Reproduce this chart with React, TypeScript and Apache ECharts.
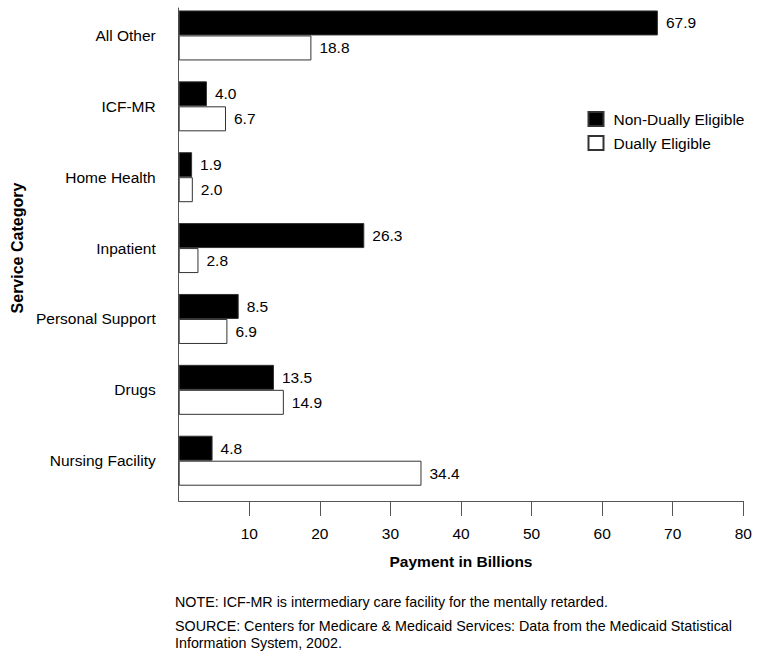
import React, { useEffect, useRef } from "react";
import * as echarts from "echarts";

const categories = [
  "All Other",
  "ICF-MR",
  "Home Health",
  "Inpatient",
  "Personal Support",
  "Drugs",
  "Nursing Facility",
];
const nonDuallyEligible = [67.9, 4.0, 1.9, 26.3, 8.5, 13.5, 4.8];
const duallyEligible = [18.8, 6.7, 2.0, 2.8, 6.9, 14.9, 34.4];
const xTicks = [10, 20, 30, 40, 50, 60, 70, 80];

const FONT = "'Liberation Sans', Arial, Helvetica, sans-serif";

export default function App() {
  const ref = useRef<HTMLDivElement>(null);
  useEffect(() => {
    document.body.style.margin = "0";
    const chart = echarts.init(ref.current!, null, { renderer: "svg" });
    const axisColor = "#555";
    const left = 178.7;
    const width = 564.6;
    const labelFont = 15.5;
    chart.setOption({
      animation: false,
      textStyle: { fontFamily: FONT },
      grid: [
        { left, width, top: -1.55, height: 497.7, containLabel: false },
        { left, width, top: 8, height: 493, containLabel: false },
      ],
      xAxis: [
        { gridIndex: 0, type: "value", min: 0, max: 80, show: false },
        {
          gridIndex: 1,
          type: "value",
          min: 0,
          max: 80,
          interval: 10,
          axisLine: { show: true, lineStyle: { color: axisColor, width: 1 } },
          axisTick: { show: true, length: 15, customValues: xTicks, lineStyle: { color: axisColor } },
          axisLabel: { customValues: xTicks, margin: 24, color: "#000", fontSize: labelFont, fontFamily: FONT },
          splitLine: { show: false },
          name: "Payment in Billions",
          nameLocation: "middle",
          nameGap: 52,
          nameTextStyle: { fontWeight: "bold", fontSize: 15.5, color: "#000", fontFamily: FONT },
        },
      ],
      yAxis: [
        {
          gridIndex: 0,
          type: "category",
          data: categories,
          inverse: true,
          axisLine: { show: false },
          axisTick: { show: false },
          axisLabel: { margin: 23, color: "#000", fontSize: labelFont, fontFamily: FONT },
          splitLine: { show: false },
          name: "Service Category",
          nameLocation: "middle",
          nameGap: 146,
          nameRotate: 90,
          nameTextStyle: { fontWeight: "bold", fontSize: 16, color: "#000", fontFamily: FONT },
        },
        {
          gridIndex: 1,
          type: "value",
          min: 0,
          max: 1,
          axisLine: { show: true, lineStyle: { color: axisColor, width: 1 } },
          axisTick: { show: false },
          axisLabel: { show: false },
          splitLine: { show: false },
        },
      ],
      legend: {
        orient: "vertical",
        left: 587.5,
        top: 111,
        padding: 0,
        itemWidth: 15,
        itemHeight: 14,
        itemGap: 8,
        icon: "rect",
        textStyle: { fontSize: labelFont, color: "#000", fontFamily: FONT, padding: [0, 0, 0, 5] },
        data: ["Non-Dually Eligible", "Dually Eligible"],
      },
      series: [
        {
          name: "Non-Dually Eligible",
          type: "bar",
          xAxisIndex: 0,
          yAxisIndex: 0,
          data: nonDuallyEligible,
          barWidth: 25,
          barGap: "0%",
          itemStyle: { color: "#000", borderColor: "#333", borderWidth: 1 },
          label: {
            show: true,
            position: "right",
            distance: 8,
            color: "#000",
            fontSize: labelFont,
            fontFamily: FONT,
            formatter: (p: any) => p.value.toFixed(1),
          },
        },
        {
          name: "Dually Eligible",
          type: "bar",
          xAxisIndex: 0,
          yAxisIndex: 0,
          data: duallyEligible,
          barWidth: 25,
          barGap: "0%",
          itemStyle: { color: "#fff", borderColor: "#333", borderWidth: 1 },
          label: {
            show: true,
            position: "right",
            distance: 8,
            color: "#000",
            fontSize: labelFont,
            fontFamily: FONT,
            formatter: (p: any) => p.value.toFixed(1),
          },
        },
      ],
      graphic: [
        {
          type: "text",
          left: 175,
          top: 595,
          style: {
            text: "NOTE: ICF-MR is intermediary care facility for the mentally retarded.",
            fontSize: 14.3,
            fontFamily: FONT,
            fill: "#000",
          },
        },
        {
          type: "text",
          left: 175,
          top: 617,
          style: {
            text: "SOURCE: Centers for Medicare & Medicaid Services: Data from the Medicaid Statistical\nInformation System, 2002.",
            fontSize: 14.3,
            lineHeight: 17,
            fontFamily: FONT,
            fill: "#000",
          },
        },
      ],
    });
    return () => chart.dispose();
  }, []);
  return <div ref={ref} style={{ width: 770, height: 656 }} />;
}
